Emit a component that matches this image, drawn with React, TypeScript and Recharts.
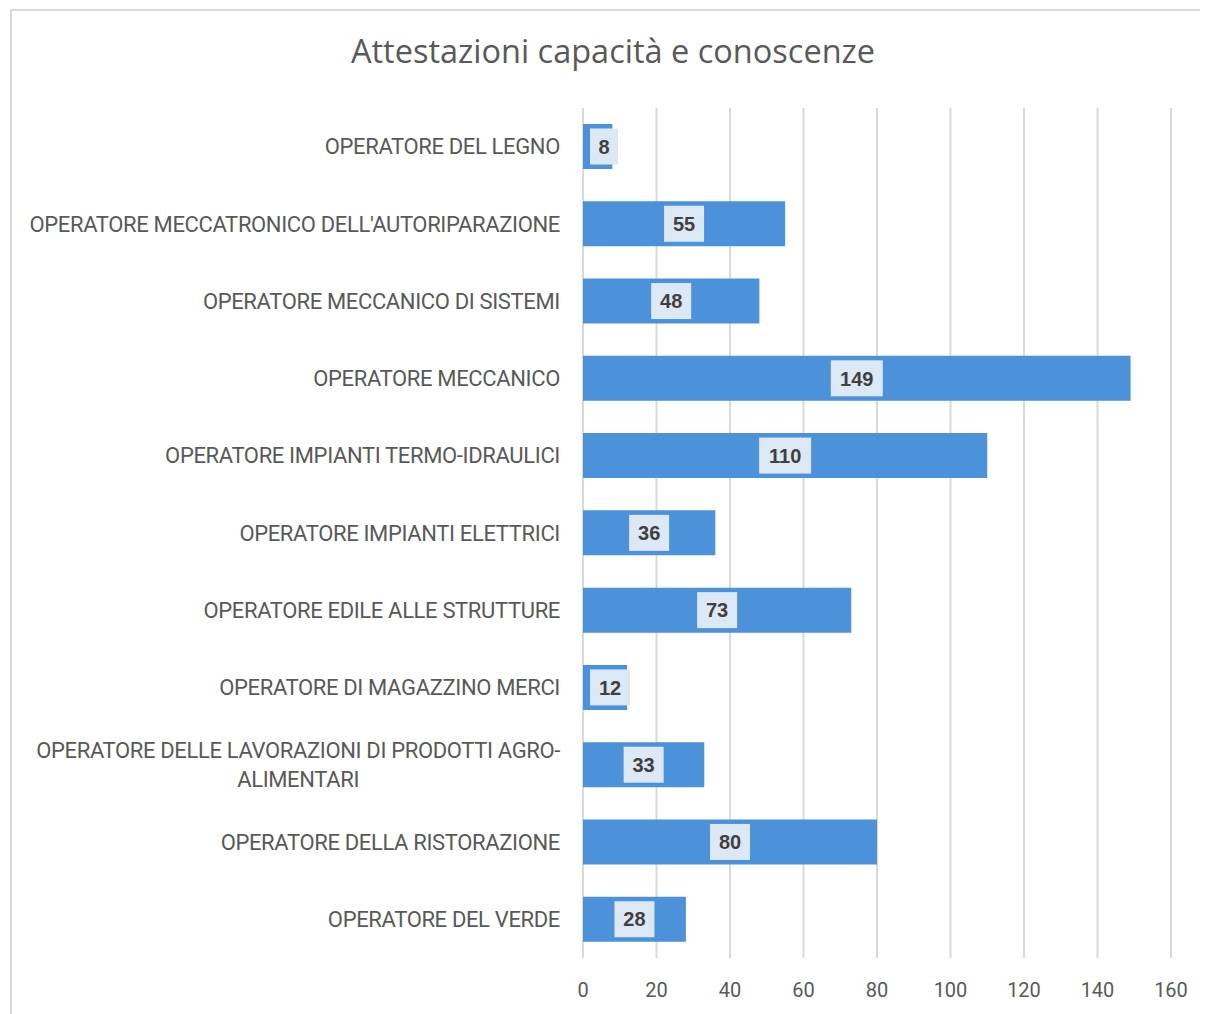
import { Bar, BarChart, CartesianGrid, LabelList, XAxis, YAxis } from 'recharts';

const categories = [
  'OPERATORE DEL LEGNO',
  "OPERATORE MECCATRONICO DELL'AUTORIPARAZIONE",
  'OPERATORE MECCANICO DI SISTEMI',
  'OPERATORE MECCANICO',
  'OPERATORE IMPIANTI TERMO-IDRAULICI',
  'OPERATORE IMPIANTI ELETTRICI',
  'OPERATORE EDILE ALLE STRUTTURE',
  'OPERATORE DI MAGAZZINO MERCI',
  'OPERATORE DELLE LAVORAZIONI DI PRODOTTI AGRO-ALIMENTARI',
  'OPERATORE DELLA RISTORAZIONE',
  'OPERATORE DEL VERDE',
];

const attestazioni = [8, 55, 48, 149, 110, 36, 73, 12, 33, 80, 28];

const xTicks = [0, 20, 40, 60, 80, 100, 120, 140, 160];

const data = categories.map((name, i) => ({ name, value: attestazioni[i] }));

const LABEL_FONT = '22px Roboto';
const LABEL_SPACING = -0.35;
const BLUE = '#4B92DB';
const GRID = '#d9d9d9';

let ctx: CanvasRenderingContext2D | null = null;
function measure(text: string, font: string) {
  if (!ctx) ctx = document.createElement('canvas').getContext('2d');
  if (!ctx) return text.length * 12;
  ctx.font = font;
  return ctx.measureText(text).width + LABEL_SPACING * text.length;
}

// break long labels after a space or hyphen, like Excel does
function wrap(text: string, maxChars = 46) {
  if (text.length <= maxChars) return [text];
  let cut = -1;
  for (let i = 0; i < maxChars; i++) {
    if (text[i] === ' ' || text[i] === '-') cut = i;
  }
  if (cut < 0) return [text];
  return [text.slice(0, cut + 1).trim(), text.slice(cut + 1).trim()];
}

function CategoryTick(props: any) {
  const { x, y, payload } = props;
  const lines = wrap(payload.value);
  const right = x - 23;
  const style = { font: LABEL_FONT, letterSpacing: LABEL_SPACING };
  if (lines.length === 1) {
    return (
      <text x={right} y={y} dy="0.35em" textAnchor="end" fill="#595959" style={style}>
        {payload.value}
      </text>
    );
  }
  const w = measure(lines[0], LABEL_FONT);
  const cx = right - w / 2;
  const lh = 29;
  const top = y - ((lines.length - 1) * lh) / 2;
  return (
    <text textAnchor="middle" fill="#595959" style={style}>
      {lines.map((l, i) => (
        <tspan key={i} x={cx} y={top + i * lh} dy="0.35em">
          {l}
        </tspan>
      ))}
    </text>
  );
}

function ValueLabel(props: any) {
  const { x, y, width, height, value } = props;
  const txt = String(value);
  const w = 16 + 12 * txt.length;
  const h = 36;
  const cy = y + height / 2;
  // Excel keeps the label a little inside the bar start on short bars
  const left = Math.max(x + width / 2 - w / 2, x + 7);
  const cx = left + w / 2;
  return (
    <g>
      <rect x={left} y={cy - h / 2} width={w} height={h} fill="#dde8f5" />
      <text
        x={cx}
        y={cy}
        dy="0.36em"
        textAnchor="middle"
        fill="#404040"
        style={{ font: 'bold 20px "Liberation Sans", Arial, sans-serif' }}
      >
        {txt}
      </text>
    </g>
  );
}

export default function App() {
  return (
    <div style={{ position: 'relative', width: 1200, height: 1006, fontFamily: 'Roboto, sans-serif' }}>
      <div
        style={{
          position: 'absolute',
          left: 2,
          top: 1,
          width: 1198,
          height: 1005,
          borderTop: `2px solid ${GRID}`,
          borderLeft: `2px solid ${GRID}`,
          boxSizing: 'border-box',
        }}
      />
      <div
        style={{
          position: 'absolute',
          left: 0,
          width: 1210,
          top: 20,
          textAlign: 'center',
          fontSize: 32.5,
          color: '#595959',
          fontFamily: '"Open Sans", sans-serif',
        }}
      >
        Attestazioni capacità e conoscenze
      </div>
      <div style={{ position: 'absolute', left: 0, top: 0 }}>
        <BarChart
          width={1200}
          height={1006}
          data={data}
          layout="vertical"
          barSize={45}
          margin={{ top: 100, right: 37, left: 0, bottom: 26 }}
        >
          <CartesianGrid horizontal={false} stroke={GRID} strokeWidth={2} />
          <XAxis
            type="number"
            domain={[0, 160]}
            ticks={xTicks}
            axisLine={false}
            tickLine={false}
            tickMargin={19}
            height={30}
            tick={{ fill: '#595959', fontSize: 20, fontFamily: 'Roboto' }}
          />
          <YAxis
            type="category"
            dataKey="name"
            width={575}
            axisLine={false}
            tickLine={false}
            tickSize={0}
            tickMargin={0}
            interval={0}
            tick={<CategoryTick />}
          />
          <Bar dataKey="value" fill={BLUE} isAnimationActive={false}>
            <LabelList dataKey="value" content={<ValueLabel />} />
          </Bar>
        </BarChart>
      </div>
    </div>
  );
}
